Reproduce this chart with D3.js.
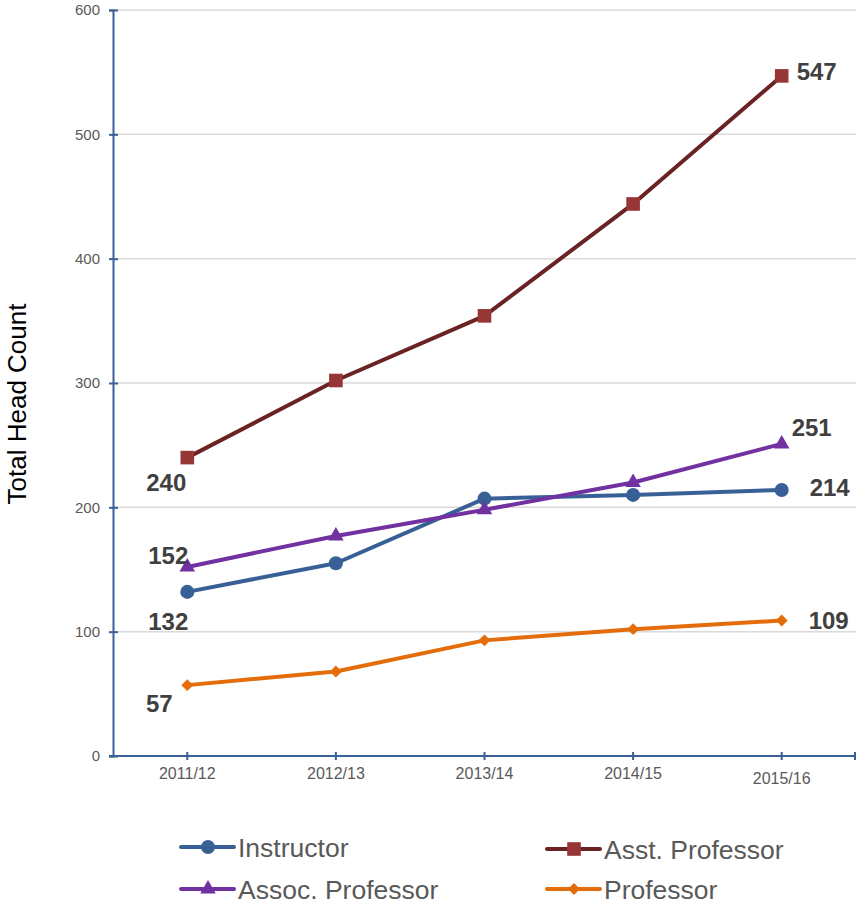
<!DOCTYPE html>
<html>
<head>
<meta charset="utf-8">
<script src="https://cdn.jsdelivr.net/npm/d3@7"></script>
<style>
  body { margin: 0; background: #fff; }
  svg { display: block; font-family: "Liberation Sans", Arial, sans-serif; }
</style>
</head>
<body>
<svg id="chart" width="858" height="904"></svg>
<script>
// Faculty head count by academic year
const years = ["2011/12", "2012/13", "2013/14", "2014/15", "2015/16"];
const instructor = [132, 155, 207, 210, 214];
const asstProfessor = [240, 302, 354, 444, 547];
const assocProfessor = [152, 177, 198, 220, 251];
const professor = [57, 68, 93, 102, 109];
const yTicks = [0, 100, 200, 300, 400, 500, 600];

const series = [
  { name: "Instructor", values: instructor, line: "#386096", fill: "#386096", shape: d3.symbolCircle, size: 155 },
  { name: "Asst. Professor", values: asstProfessor, line: "#6b2223", fill: "#963636", shape: d3.symbolSquare, size: 185 },
  { name: "Assoc. Professor", values: assocProfessor, line: "#7131a1", fill: "#7131a1", shape: d3.symbolTriangle, size: 105 },
  { name: "Professor", values: professor, line: "#e46d0b", fill: "#e46d0b", shape: d3.symbolDiamond2, size: 90 }
];

const svg = d3.select("#chart");
const plotLeft = 113, plotRight = 856, plotTop = 10, plotBottom = 756;

const x = d3.scaleBand().domain(years).range([plotLeft, plotRight]);
const cx = d => x(d) + x.bandwidth() / 2;
const y = d3.scaleLinear().domain([0, 600]).range([plotBottom, plotTop]);

// gridlines
svg.append("g").selectAll("line").data(yTicks.filter(t => t > 0)).join("line")
  .attr("x1", plotLeft).attr("x2", plotRight)
  .attr("y1", d => y(d)).attr("y2", d => y(d))
  .attr("stroke", "#d9d9d9").attr("stroke-width", 1.5);

// y axis
const yAxis = svg.append("g").attr("transform", `translate(${plotLeft},0)`)
  .call(d3.axisLeft(y).tickValues(yTicks).tickSize(4).tickPadding(9));
yAxis.select(".domain").attr("stroke", "#3a6195").attr("stroke-width", 2);
yAxis.selectAll(".tick line").attr("stroke", "#3a6195").attr("stroke-width", 2).attr("x2", 5).attr("x1", -4);
yAxis.selectAll(".tick text").attr("fill", "#595959").style("font-size", "15px");

// x axis
const xAxis = svg.append("g").attr("transform", `translate(0,${plotBottom})`)
  .call(d3.axisBottom(x).tickSize(4).tickPadding(8).tickSizeOuter(0));
xAxis.select(".domain").attr("stroke", "#3a6195").attr("stroke-width", 2)
  .attr("d", `M${plotLeft - 4},0H${plotRight}`);
xAxis.selectAll(".tick line").attr("stroke", "#3a6195").attr("stroke-width", 2).attr("y1", -4);
xAxis.selectAll(".tick text").attr("fill", "#595959").style("font-size", "16px")
  .attr("y", (d, i) => i === years.length - 1 ? 17 : 12);
xAxis.append("line").attr("x1", plotRight - 1).attr("x2", plotRight - 1).attr("y1", -4).attr("y2", 4)
  .attr("stroke", "#3a6195").attr("stroke-width", 2);

// y axis title
svg.append("text")
  .attr("transform", `translate(26,404) rotate(-90)`)
  .attr("text-anchor", "middle")
  .attr("fill", "#000")
  .style("font-size", "26px")
  .text("Total Head Count");

// lines and markers
const line = d3.line().x((d, i) => cx(years[i])).y(d => y(d));
series.forEach(s => {
  svg.append("path").datum(s.values)
    .attr("d", line).attr("fill", "none")
    .attr("stroke", s.line).attr("stroke-width", 4).attr("stroke-linejoin", "round");
  svg.append("g").selectAll("path").data(s.values).join("path")
    .attr("transform", (d, i) => `translate(${cx(years[i])},${y(d)})`)
    .attr("d", d3.symbol().type(s.shape).size(s.size))
    .attr("fill", s.fill);
});

// end-point value labels
const labels = [
  { v: asstProfessor[0], i: 0, dx: -21, dy: 33 },
  { v: assocProfessor[0], i: 0, dx: -19, dy: -3.5 },
  { v: instructor[0], i: 0, dx: -19, dy: 38 },
  { v: professor[0], i: 0, dx: -28, dy: 26.5 },
  { v: asstProfessor[4], i: 4, dx: 35, dy: 4.5 },
  { v: assocProfessor[4], i: 4, dx: 30, dy: -7.5 },
  { v: instructor[4], i: 4, dx: 48, dy: 6 },
  { v: professor[4], i: 4, dx: 47, dy: 9 }
];
svg.append("g").selectAll("text").data(labels).join("text")
  .attr("x", d => cx(years[d.i]) + d.dx)
  .attr("y", d => y(d.v) + d.dy)
  .attr("text-anchor", "middle")
  .attr("fill", "#404040")
  .style("font-size", "24px").style("font-weight", "bold")
  .text(d => d.v);

// legend
const legendPos = [
  { x: 181, y: 847 }, { x: 547, y: 849 },
  { x: 181, y: 889 }, { x: 547, y: 889 }
];
series.forEach((s, i) => {
  const p = legendPos[i];
  const g = svg.append("g").attr("transform", `translate(${p.x},${p.y})`);
  g.append("line").attr("x1", 0).attr("x2", 53).attr("y1", 0).attr("y2", 0)
    .attr("stroke", s.line).attr("stroke-width", 4).attr("stroke-linecap", "round");
  g.append("path").attr("transform", "translate(27,0)")
    .attr("d", d3.symbol().type(s.shape).size(s.size)).attr("fill", s.fill);
  g.append("text").attr("x", 57).attr("y", 9.5)
    .attr("fill", "#595959").style("font-size", "26.5px").text(s.name);
});
</script>
</body>
</html>
